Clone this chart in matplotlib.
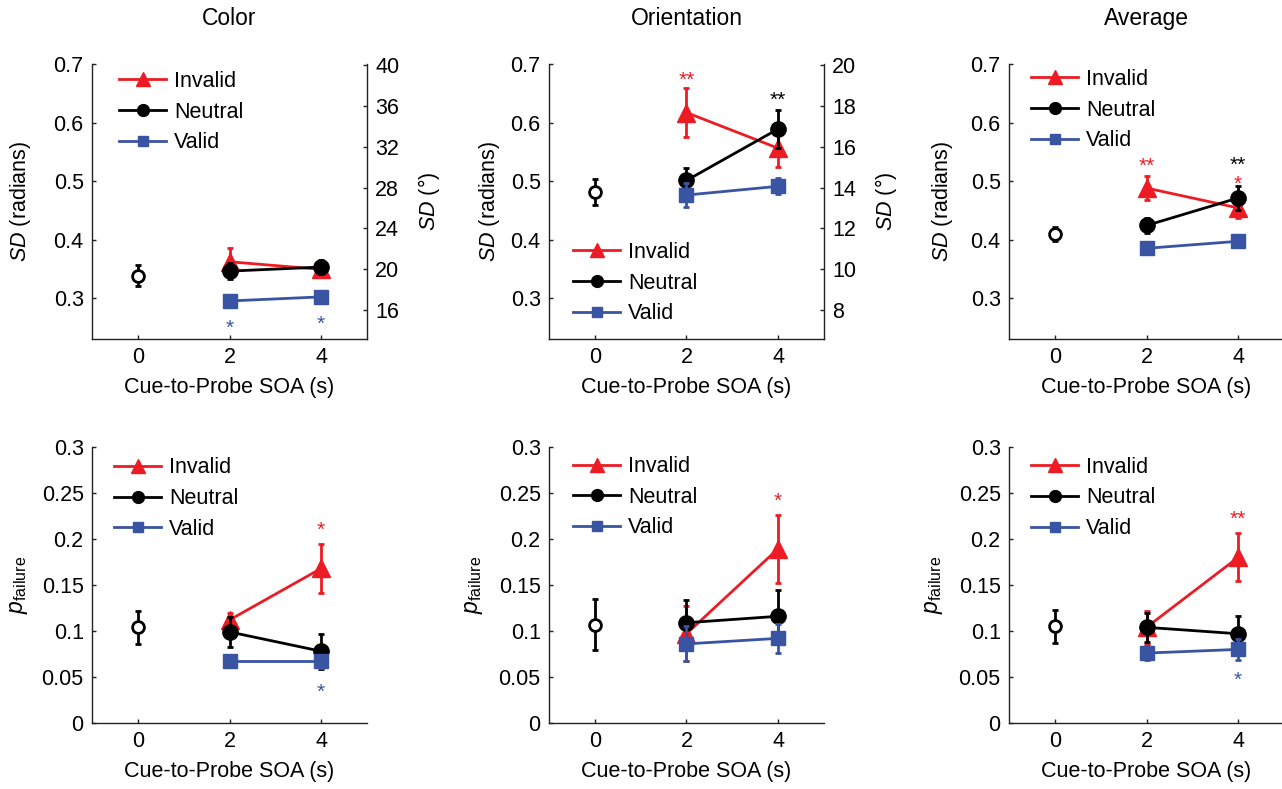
import numpy as np
import matplotlib
matplotlib.use("Agg")
import matplotlib.pyplot as plt
from matplotlib import font_manager, transforms
from matplotlib.lines import Line2D

# -----------------------------
# Fonts
# -----------------------------
installed = {f.name for f in font_manager.fontManager.ttflist}
family = "Liberation Sans Narrow" if "Liberation Sans Narrow" in installed else "Liberation Sans"
plt.rcParams['font.family'] = [family, 'DejaVu Sans']
plt.rcParams['mathtext.fontset'] = 'custom'
plt.rcParams['mathtext.rm'] = family
plt.rcParams['mathtext.it'] = family + ':italic'

# -----------------------------
# Data
# -----------------------------
soa = [2, 4]
soa_base = [0]
col_titles = ['Color', 'Orientation', 'Average']

# SD (radians)
color_sd_invalid = [0.362, 0.349]; color_sd_invalid_err = [0.023, 0.006]
color_sd_neutral = [0.346, 0.353]; color_sd_neutral_err = [0.014, 0.012]
color_sd_valid = [0.295, 0.302];   color_sd_valid_err = [0.005, 0.006]
color_sd_base = [0.338];           color_sd_base_err = [0.018]

orient_sd_invalid = [0.617, 0.556]; orient_sd_invalid_err = [0.042, 0.032]
orient_sd_neutral = [0.501, 0.589]; orient_sd_neutral_err = [0.022, 0.033]
orient_sd_valid = [0.476, 0.491];   orient_sd_valid_err = [0.021, 0.014]
orient_sd_base = [0.481];           orient_sd_base_err = [0.022]

avg_sd_invalid = [0.488, 0.454]; avg_sd_invalid_err = [0.021, 0.018]
avg_sd_neutral = [0.424, 0.471]; avg_sd_neutral_err = [0.013, 0.020]
avg_sd_valid = [0.385, 0.397];   avg_sd_valid_err = [0.009, 0.007]
avg_sd_base = [0.409];           avg_sd_base_err = [0.012]

# p failure
color_pf_invalid = [0.112, 0.168]; color_pf_invalid_err = [0.008, 0.027]
color_pf_neutral = [0.099, 0.078]; color_pf_neutral_err = [0.016, 0.019]
color_pf_valid = [0.067, 0.067];   color_pf_valid_err = [0.005, 0.007]
color_pf_base = [0.104];           color_pf_base_err = [0.018]

orient_pf_invalid = [0.097, 0.1895]; orient_pf_invalid_err = [0.030, 0.037]
orient_pf_neutral = [0.109, 0.116];  orient_pf_neutral_err = [0.025, 0.029]
orient_pf_valid = [0.086, 0.092];    orient_pf_valid_err = [0.019, 0.016]
orient_pf_base = [0.107];            orient_pf_base_err = [0.0275]

avg_pf_invalid = [0.104, 0.180]; avg_pf_invalid_err = [0.018, 0.026]
avg_pf_neutral = [0.104, 0.097]; avg_pf_neutral_err = [0.016, 0.019]
avg_pf_valid = [0.076, 0.080];   avg_pf_valid_err = [0.008, 0.011]
avg_pf_base = [0.105];           avg_pf_base_err = [0.018]

# significance stars: (x, y, text, condition)
color_sd_stars = [(2, 0.257, '*', 'valid'), (4, 0.264, '*', 'valid')]
orient_sd_stars = [(2, 0.682, '**', 'invalid'), (4, 0.647, '**', 'neutral')]
avg_sd_stars = [(2, 0.534, '**', 'invalid'), (4, 0.536, '**', 'neutral'), (4, 0.504, '*', 'invalid')]
color_pf_stars = [(4, 0.215, '*', 'invalid'), (4, 0.039, '*', 'valid')]
orient_pf_stars = [(4, 0.2475, '*', 'invalid')]
avg_pf_stars = [(4, 0.227, '**', 'invalid'), (4, 0.052, '*', 'valid')]

sd_ticks = [0.3, 0.4, 0.5, 0.6, 0.7]
pf_ticks = [0, 0.05, 0.1, 0.15, 0.2, 0.25, 0.3]
color_deg_ticks = [16, 20, 24, 28, 32, 36, 40]
orient_deg_ticks = [8, 10, 12, 14, 16, 18, 20]

RED = '#ED1C24'
BLACK = '#000000'
BLUE = '#3A54A4'
cond_color = {'invalid': RED, 'neutral': BLACK, 'valid': BLUE}

FS = 15.5

panels = [
    dict(inv=color_sd_invalid, inv_e=color_sd_invalid_err, neu=color_sd_neutral, neu_e=color_sd_neutral_err,
         val=color_sd_valid, val_e=color_sd_valid_err, base=color_sd_base, base_e=color_sd_base_err,
         stars=color_sd_stars, kind='sd', right=color_deg_ticks, scale=180 / np.pi, leg=(0.098, 0.975),
         ylab_x=-0.215),
    dict(inv=orient_sd_invalid, inv_e=orient_sd_invalid_err, neu=orient_sd_neutral, neu_e=orient_sd_neutral_err,
         val=orient_sd_valid, val_e=orient_sd_valid_err, base=orient_sd_base, base_e=orient_sd_base_err,
         stars=orient_sd_stars, kind='sd', right=orient_deg_ticks, scale=90 / np.pi, leg=(0.087, 0.353),
         ylab_x=-0.172),
    dict(inv=avg_sd_invalid, inv_e=avg_sd_invalid_err, neu=avg_sd_neutral, neu_e=avg_sd_neutral_err,
         val=avg_sd_valid, val_e=avg_sd_valid_err, base=avg_sd_base, base_e=avg_sd_base_err,
         stars=avg_sd_stars, kind='sd', right=None, scale=None, leg=(0.08, 0.982),
         ylab_x=-0.196),
    dict(inv=color_pf_invalid, inv_e=color_pf_invalid_err, neu=color_pf_neutral, neu_e=color_pf_neutral_err,
         val=color_pf_valid, val_e=color_pf_valid_err, base=color_pf_base, base_e=color_pf_base_err,
         stars=color_pf_stars, kind='pf', right=None, scale=None, leg=(0.08, 0.962),
         ylab_x=-0.225),
    dict(inv=orient_pf_invalid, inv_e=orient_pf_invalid_err, neu=orient_pf_neutral, neu_e=orient_pf_neutral_err,
         val=orient_pf_valid, val_e=orient_pf_valid_err, base=orient_pf_base, base_e=orient_pf_base_err,
         stars=orient_pf_stars, kind='pf', right=None, scale=None, leg=(0.087, 0.967),
         ylab_x=-0.232),
    dict(inv=avg_pf_invalid, inv_e=avg_pf_invalid_err, neu=avg_pf_neutral, neu_e=avg_pf_neutral_err,
         val=avg_pf_valid, val_e=avg_pf_valid_err, base=avg_pf_base, base_e=avg_pf_base_err,
         stars=avg_pf_stars, kind='pf', right=None, scale=None, leg=(0.08, 0.965),
         ylab_x=-0.232),
]

# -----------------------------
# Figure layout
# -----------------------------
fig = plt.figure(figsize=(12.82, 7.89), dpi=100)
W, H = 1282, 789
lefts = [92, 549, 1009]
width = 275
rows = [(64, 339), (447, 723)]


def fmt(v):
    return ('%.2f' % v).rstrip('0').rstrip('.')


def style_axis(ax):
    for side in ['top', 'right']:
        ax.spines[side].set_visible(False)
    for side in ['left', 'bottom']:
        ax.spines[side].set_linewidth(1.0)
        ax.spines[side].set_color('#222222')
    ax.tick_params(direction='in', length=3, width=1, labelsize=FS, pad=6, colors='#222222',
                   labelcolor='black')


legend_handles = [
    Line2D([], [], color=RED, marker='^', ms=10, lw=2, label='Invalid'),
    Line2D([], [], color=BLACK, marker='o', ms=8.5, lw=2, label='Neutral'),
    Line2D([], [], color=BLUE, marker='s', ms=7, lw=2, label='Valid'),
]

for i, p in enumerate(panels):
    r, c = divmod(i, 3)
    top, bot = rows[r]
    ax = fig.add_axes([lefts[c] / W, (H - bot) / H, width / W, (bot - top) / H])
    style_axis(ax)

    ax.errorbar(soa, p['inv'], yerr=p['inv_e'], color=RED, marker='^', ms=13, lw=2, elinewidth=2,
                capsize=2, capthick=2, zorder=3)
    ax.errorbar(soa, p['neu'], yerr=p['neu_e'], color=BLACK, marker='o', ms=11, lw=2, elinewidth=2,
                capsize=2, capthick=2, zorder=4)
    ax.errorbar(soa, p['val'], yerr=p['val_e'], color=BLUE, marker='s', ms=9.5, lw=2, elinewidth=2,
                capsize=2, capthick=2, zorder=5)
    ax.errorbar(soa_base, p['base'], yerr=p['base_e'], color=BLACK, marker='o', ms=8.5, mfc='white',
                mew=2, lw=0, elinewidth=2, capsize=2, capthick=2, zorder=4)

    star_tr = transforms.offset_copy(ax.transData, fig=fig, y=-8, units='points')
    for sx, sy, txt, cond in p['stars']:
        ax.text(sx, sy, txt, color=cond_color[cond], fontsize=15, ha='center', va='baseline',
                transform=star_tr)

    ax.set_xlim(-1, 5)
    ax.set_xticks([0, 2, 4])
    ax.set_xlabel('Cue-to-Probe SOA (s)', fontsize=FS, labelpad=6)

    if p['kind'] == 'sd':
        ax.set_ylim(0.23, 0.7)
        ax.set_yticks(sd_ticks)
        ax.set_yticklabels([fmt(t) for t in sd_ticks])
        ax.set_ylabel(r'$\it{SD}$ (radians)', fontsize=FS)
    else:
        ax.set_ylim(0, 0.3)
        ax.set_yticks(pf_ticks)
        ax.set_yticklabels([fmt(t) for t in pf_ticks])
        ax.set_ylabel(r'$\it{p}_{\rm failure}$', fontsize=FS + 1)
    ax.yaxis.set_label_coords(p['ylab_x'], 0.5)

    if r == 0:
        ax.set_title(col_titles[c], fontsize=FS + 1, pad=28)

    if p['right'] is not None:
        ax2 = ax.twinx()
        ax2.set_ylim(ax.get_ylim()[0] * p['scale'], ax.get_ylim()[1] * p['scale'])
        ax2.set_yticks(p['right'])
        for side in ['top', 'left', 'bottom']:
            ax2.spines[side].set_visible(False)
        ax2.spines['right'].set_linewidth(1.0)
        ax2.spines['right'].set_color('#222222')
        ax2.tick_params(direction='in', length=3, width=1, labelsize=FS, pad=6, colors='#222222',
                        labelcolor='black')
        ax2.set_ylabel(r'$\it{SD}$ ($\degree$)', fontsize=FS)
        ax2.yaxis.set_label_coords(1.178, 0.5)

    ax.legend(handles=legend_handles, loc='upper left', bbox_to_anchor=p['leg'], frameon=False,
              fontsize=FS, borderpad=0, borderaxespad=0, handlelength=2.2, handletextpad=0.35,
              labelspacing=0.45)

fig.savefig('out.png', dpi=100)
